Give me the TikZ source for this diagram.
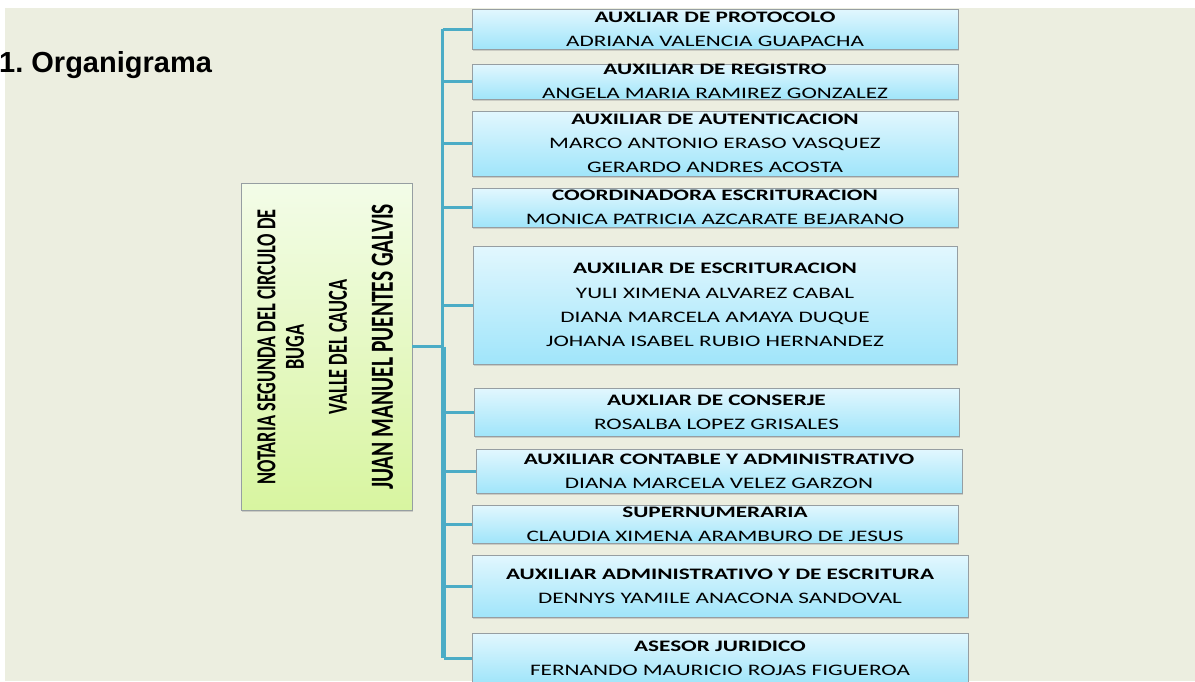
\documentclass[tikz,border=0pt]{standalone}
\usepackage{fontspec}
\usepackage{graphicx}
\usetikzlibrary{shadows}

\newfontfamily\titlefont{Liberation Sans}
\newfontfamily\boxfont[FakeStretch=1.45]{Carlito}
\newfontfamily\bossfont{Carlito}

\definecolor{pagebg}{RGB}{236,238,224}
\definecolor{linkblue}{RGB}{75,172,198}
\definecolor{boxline}{RGB}{150,158,162}
\definecolor{staffTop}{RGB}{226,247,254}
\definecolor{staffBot}{RGB}{160,229,250}
\definecolor{bossTop}{RGB}{243,252,232}
\definecolor{bossBot}{RGB}{216,245,160}

\begin{document}
\begin{tikzpicture}[
    x=1pt, y=-1pt,
    % Section heading
    heading/.style={anchor=base west, inner sep=0pt, font=\titlefont\bfseries\fontsize{29}{31}\selectfont},
    % Staff box (light blue gradient)
    staff/.style={draw=boxline, top color=staffTop, bottom color=staffBot, inner sep=0pt,
        drop shadow={shadow xshift=1pt, shadow yshift=-1.5pt, opacity=0.3}},
    % Text inside a staff box
    stafftext/.style={align=center, inner sep=0pt, font=\boxfont\fontsize{16}{24.3}\selectfont},
    % Head box (green gradient)
    boss/.style={draw=boxline, top color=bossTop, bottom color=bossBot, inner sep=0pt,
        drop shadow={shadow xshift=1pt, shadow yshift=-1.5pt, opacity=0.3}},
    % Rotated text of the head box
    bosstext/.style={rotate=90, inner sep=0pt, font=\bossfont\bfseries},
    % Connector lines
    link/.style={draw=linkblue, line width=3.5pt},
]

% ============================================================
% Helper macro: one staff box with its text
% Arguments: #1=name, #2=left, #3=top, #4=right, #5=bottom, #6=text
% ============================================================
\newcommand{\staffbox}[6]{
    \node[staff, minimum width={#4-#2}, minimum height={#5-#3}] (#1) at ({(#2+#4)/2}, {(#3+#5)/2}) {};
    \node[stafftext] (#1text) at (#1) {#6};
}

% --- Page background ---
\useasboundingbox (0, 0) rectangle (1195, 681);
\fill[pagebg] (5, 8) rectangle (1195, 681);

% --- Heading ---
\node[heading] (title) at (-1, 72) {1.\ Organigrama};

% --- Head box ---
\node[boss, minimum width=171, minimum height=327] (boss) at (326.5, 346.5) {};
\node[bosstext, font=\bossfont\bfseries\fontsize{18.3}{20}\selectfont] (bossA) at (266.5, 347)
    {\scalebox{1}[1.5]{NOTARIA SEGUNDA DEL CIRCULO DE}};
\node[bosstext, font=\bossfont\bfseries\fontsize{18.3}{20}\selectfont] (bossB) at (295, 347)
    {\scalebox{1}[1.5]{BUGA}};
\node[bosstext, font=\bossfont\bfseries\fontsize{18.3}{20}\selectfont] (bossC) at (338, 347)
    {\scalebox{1}[1.5]{VALLE DEL CAUCA}};
\node[bosstext, font=\bossfont\bfseries\fontsize{21.5}{24}\selectfont] (bossD) at (382.5, 347)
    {\scalebox{1}[1.5]{JUAN MANUEL PUENTES GALVIS}};

% --- Staff boxes ---
\staffbox{b1}{472}{9}{958}{49}{\textbf{AUXLIAR DE PROTOCOLO}\\ADRIANA VALENCIA GUAPACHA}
\staffbox{b2}{472}{64}{958}{99}{\textbf{AUXILIAR DE REGISTRO}\\ANGELA MARIA RAMIREZ GONZALEZ}
\staffbox{b3}{472}{111}{958}{176}{\textbf{AUXILIAR DE AUTENTICACION}\\MARCO ANTONIO ERASO VASQUEZ\\GERARDO ANDRES ACOSTA}
\staffbox{b4}{472}{188}{958}{227}{\textbf{COORDINADORA ESCRITURACION}\\MONICA PATRICIA AZCARATE BEJARANO}
\staffbox{b5}{473}{246}{957}{364}{\textbf{AUXILIAR DE ESCRITURACION}\\YULI XIMENA ALVAREZ CABAL\\DIANA MARCELA AMAYA DUQUE\\JOHANA ISABEL RUBIO HERNANDEZ}
\staffbox{b6}{474}{388}{959}{436}{\textbf{AUXLIAR DE CONSERJE}\\ROSALBA LOPEZ GRISALES}
\staffbox{b7}{476}{449}{962}{493}{\textbf{AUXILIAR CONTABLE Y ADMINISTRATIVO}\\DIANA MARCELA VELEZ GARZON}
\staffbox{b8}{472}{505}{958}{543}{\textbf{SUPERNUMERARIA}\\CLAUDIA XIMENA ARAMBURO DE JESUS}
\staffbox{b9}{472}{555}{968}{617}{\textbf{AUXILIAR ADMINISTRATIVO Y DE ESCRITURA}\\DENNYS YAMILE ANACONA SANDOVAL}
\staffbox{b10}{472}{633}{968}{683}{\textbf{ASESOR JURIDICO}\\FERNANDO MAURICIO ROJAS FIGUEROA}

% --- Connections ---
\coordinate (trunkup) at (442.5, 0);
\coordinate (trunklow) at (443.5, 0);
% head -> trunk
\draw[link] (boss.east) -- (boss.east -| trunklow);
% vertical trunk, upper and lower part
\draw[link] (trunkup |- b1.west) -- (trunkup |- boss.east);
\draw[link, line width=4.5pt] (trunklow |- boss.east) -- (trunklow |- b10.west);
% trunk -> each box
\foreach \i in {1,...,5}
    \draw[link, line width=3pt] (trunkup |- b\i.west) -- (b\i.west);
\foreach \i in {6,...,10}
    \draw[link, line width=3pt] (trunklow |- b\i.west) -- (b\i.west);

\end{tikzpicture}
\end{document}
